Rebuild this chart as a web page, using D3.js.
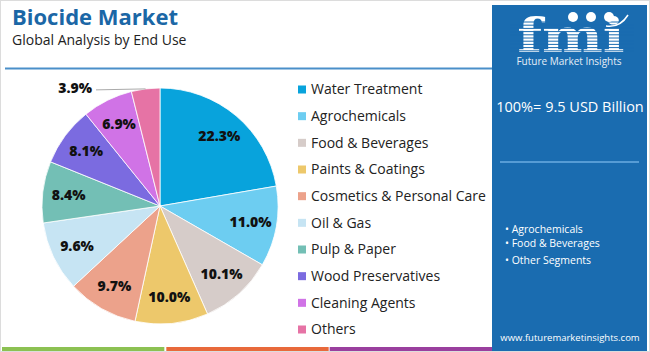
<!DOCTYPE html>
<html>
<head>
<meta charset="utf-8">
<script src="https://cdn.jsdelivr.net/npm/d3@7"></script>
<style>
  html, body { margin: 0; padding: 0; background: #fff; }
  svg { display: block; font-family: "Open Sans", sans-serif; }
</style>
</head>
<body>
<div id="chart"></div>
<script>
// End-use segments, shares (%) and slice colours
const segments = ["Water Treatment", "Agrochemicals", "Food & Beverages", "Paints & Coatings",
  "Cosmetics & Personal Care", "Oil & Gas", "Pulp & Paper", "Wood Preservatives",
  "Cleaning Agents", "Others"];
const shares = [22.3, 11.0, 10.1, 10.0, 9.7, 9.6, 8.4, 8.1, 6.9, 3.9];
const colors = ["#08a3dc", "#6dcdf1", "#d6ccc9", "#edc86b", "#eca28b",
  "#c6e4f3", "#73bfb5", "#7b6be0", "#d073e6", "#e673a5"];
const highlights = ["Agrochemicals", "Food & Beverages", "Other Segments"];
const stripeColors = ["#8cc152", "#e8693b", "#9a3f9e"];

const width = 650, height = 352;
const panelColor = "#1a6cb0";

const svg = d3.select("#chart").append("svg")
  .attr("width", width)
  .attr("height", height);

// frame
svg.append("rect")
  .attr("x", 0.5).attr("y", 0.5)
  .attr("width", width - 1).attr("height", height - 1)
  .attr("fill", "#fff").attr("stroke", "#dcdcdc");

// title block
svg.append("text")
  .attr("x", 12).attr("y", 25)
  .attr("fill", "#1b67a6")
  .style("font-size", "22px").style("font-weight", 700)
  .text("Biocide Market");
svg.append("text")
  .attr("x", 12).attr("y", 45)
  .attr("fill", "#222")
  .style("font-size", "14px")
  .text("Global Analysis by End Use");

svg.append("line")
  .attr("x1", 5).attr("x2", 492)
  .attr("y1", 68.5).attr("y2", 68.5)
  .attr("stroke", "#4a8fc9").attr("stroke-width", 2);

// bottom stripes
const stripeX = d3.scaleLinear().domain([0, 3]).range([2, 492]);
svg.append("g").selectAll("rect")
  .data(stripeColors)
  .join("rect")
  .attr("x", (d, i) => stripeX(i) + (i ? 1 : 0))
  .attr("y", 347)
  .attr("width", (d, i) => stripeX(i + 1) - stripeX(i) - 1)
  .attr("height", 4)
  .attr("fill", d => d);

// pie
const cx = 160, cy = 206, R = 118;
const data = segments.map((s, i) => ({ name: s, value: shares[i], color: colors[i] }));
const pie = d3.pie().value(d => d.value).sort(null);
const arcs = pie(data);
const arc = d3.arc().innerRadius(0).outerRadius(R);
const labelArc = d3.arc().innerRadius(92).outerRadius(92);

const pg = svg.append("g").attr("transform", `translate(${cx},${cy})`);
pg.selectAll("path")
  .data(arcs)
  .join("path")
  .attr("d", arc)
  .attr("fill", d => d.data.color)
  .attr("stroke", "#fff")
  .attr("stroke-width", 0.8);

pg.selectAll("text.lbl")
  .data(arcs.filter(d => d.data.value >= 5))
  .join("text")
  .attr("class", "lbl")
  .attr("transform", d => `translate(${labelArc.centroid(d)})`)
  .attr("text-anchor", "middle")
  .attr("dy", "0.35em")
  .attr("fill", "#111")
  .style("font-size", "14px").style("font-weight", 800)
  .text(d => d.data.value.toFixed(1) + "%");

// small slice: outside label with leader line
const small = arcs.filter(d => d.data.value < 5);
small.forEach(d => {
  const a = (d.startAngle + d.endAngle) / 2;
  const px = R * Math.sin(a), py = -R * Math.cos(a);
  pg.append("line")
    .attr("x1", px).attr("y1", py)
    .attr("x2", -64).attr("y2", py + 1)
    .attr("stroke", "#aaa").attr("stroke-width", 1);
  pg.append("text")
    .attr("x", -68).attr("y", py - 1)
    .attr("text-anchor", "end")
    .attr("dy", "0.35em")
    .attr("fill", "#111")
    .style("font-size", "14px").style("font-weight", 800)
    .text(d.data.value.toFixed(1) + "%");
});

// legend
const ly = d3.scalePoint().domain(segments).range([89.5, 329.5]);
const lg = svg.append("g");
const row = lg.selectAll("g")
  .data(data)
  .join("g")
  .attr("transform", d => `translate(298,${ly(d.name)})`);
row.append("rect")
  .attr("x", 0).attr("y", -4)
  .attr("width", 8).attr("height", 8)
  .attr("fill", d => d.color);
row.append("text")
  .attr("x", 13).attr("dy", "0.35em")
  .attr("fill", "#222")
  .style("font-size", "14px")
  .text(d => d.name);

// right panel
const panel = svg.append("g");
panel.append("rect")
  .attr("x", 492).attr("y", 5)
  .attr("width", 155).attr("height", 346)
  .attr("fill", panelColor);

// logo
panel.append("text")
  .attr("transform", "translate(571,52) scale(1.25,1)")
  .attr("text-anchor", "middle")
  .attr("fill", "#fff")
  .style("font-family", "'DejaVu Serif', serif")
  .style("font-size", "46px").style("font-weight", 700)
  .text("fmi");
const stripeY = d3.range(22, 54, 3.2);
panel.append("g").selectAll("line")
  .data(stripeY)
  .join("line")
  .attr("x1", 510).attr("x2", 634)
  .attr("y1", d => d).attr("y2", d => d)
  .attr("stroke", panelColor).attr("stroke-width", 1);
panel.append("g").selectAll("circle")
  .data([573, 591, 609])
  .join("circle")
  .attr("cx", d => d).attr("cy", 17)
  .attr("r", 5)
  .attr("fill", "#fff");
panel.append("path")
  .attr("d", "M606,26 Q620,28 628,15")
  .attr("fill", "none").attr("stroke", "#fff").attr("stroke-width", 1.5);
panel.append("text")
  .attr("x", 569).attr("y", 65)
  .attr("text-anchor", "middle")
  .attr("fill", "#e6eef7")
  .style("font-size", "10px")
  .text("Future Market Insights");

panel.append("text")
  .attr("x", 570).attr("y", 112)
  .attr("text-anchor", "middle")
  .attr("fill", "#fff")
  .style("font-size", "14.5px")
  .text("100%= 9.5 USD Billion");

panel.append("line")
  .attr("x1", 500).attr("x2", 639)
  .attr("y1", 162).attr("y2", 162)
  .attr("stroke", "#6badE2").attr("stroke-width", 1.5);

panel.append("g").selectAll("text")
  .data(highlights)
  .join("text")
  .attr("x", 505)
  .attr("y", (d, i) => [233, 247, 264][i])
  .attr("fill", "#fff")
  .style("font-size", "10.5px")
  .text(d => "\u2022 " + d);

panel.append("text")
  .attr("x", 570).attr("y", 341)
  .attr("text-anchor", "middle")
  .attr("fill", "#fff")
  .style("font-size", "9.5px")
  .text("www.futuremarketinsights.com");
</script>
</body>
</html>
